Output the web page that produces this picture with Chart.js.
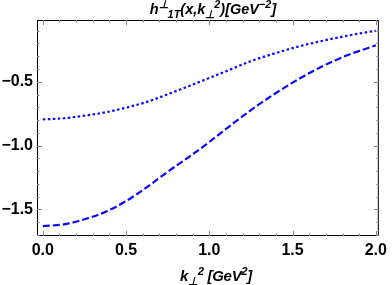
<!DOCTYPE html>
<html>
<head>
<meta charset="utf-8">
<script src="https://cdn.jsdelivr.net/npm/chart.js@4/dist/chart.umd.min.js"></script>
<style>
  html, body { margin: 0; padding: 0; background: #fff; }
  #wrap { position: relative; width: 392px; height: 285px; }
  canvas { position: absolute; left: 0; top: 0; }
  .lbl {
    position: absolute; font-family: "Liberation Sans", Arial, sans-serif;
    font-weight: bold; font-style: italic; color: #000; white-space: nowrap;
    transform: translateX(-50%); line-height: 1;
  }
  .lbl sup, .lbl sub { font-size: 75%; line-height: 0; }
  #title { left: 213px; top: 2px; font-size: 14.5px; }
  #xlabel { left: 216px; top: 268px; font-size: 15px; letter-spacing: -0.3px; }
</style>
</head>
<body>
<div id="wrap">
  <canvas id="chart" width="392" height="285"></canvas>
  <div id="title" class="lbl">h<sup>⊥</sup><sub>1T</sub>(x,k<sub>⊥</sub><sup>2</sup>)[GeV<sup>−2</sup>]</div>
  <div id="xlabel" class="lbl">k<sub>⊥</sub><sup>2</sup> [GeV<sup>2</sup>]</div>
</div>
<script>
// values
var kt2 = [0, 0.125, 0.25, 0.375, 0.5, 0.625, 0.75, 0.875, 1.0,
           1.125, 1.25, 1.375, 1.5, 1.625, 1.75, 1.875, 2.0];
var dottedVals = [-0.795, -0.786, -0.766, -0.74, -0.703, -0.658, -0.598, -0.535, -0.47,
                  -0.405, -0.338, -0.285, -0.236, -0.195, -0.16, -0.128, -0.10];
var dashedVals = [-1.632, -1.618, -1.578, -1.52, -1.435, -1.326, -1.205, -1.092, -0.972,
                  -0.845, -0.722, -0.61, -0.507, -0.415, -0.335, -0.27, -0.215];
var xTicks = [0, 0.5, 1.0, 1.5, 2.0];
var yTicks = [-1.5, -1.0, -0.5];

function pts(vals) {
  return kt2.map(function (k, i) { return { x: k, y: vals[i] }; });
}

// frame + inward ticks like the original
var framePlugin = {
  id: 'frame',
  afterDraw: function (chart) {
    var c = chart.ctx, a = chart.chartArea;
    var xs = chart.scales.x, ys = chart.scales.y;
    c.save();
    c.strokeStyle = '#000';
    c.lineWidth = 1;
    c.strokeRect(a.left + 0.5, a.top + 0.5, a.right - a.left - 1, a.bottom - a.top - 1);
    c.strokeStyle = '#888';
    for (var i = 0; i <= 20; i++) {
      var v = i / 10;
      var px = Math.round(xs.getPixelForValue(v)) + 0.5;
      var len = (i % 5 === 0) ? 5 : 2.5;
      c.beginPath();
      c.moveTo(px, a.bottom); c.lineTo(px, a.bottom - len);
      c.moveTo(px, a.top); c.lineTo(px, a.top + len);
      c.stroke();
    }
    for (var j = 1; j <= 17; j++) {
      var w = -j / 10;
      var py = Math.round(ys.getPixelForValue(w)) + 0.5;
      var l2 = (j % 5 === 0) ? 5 : 2.5;
      c.beginPath();
      c.moveTo(a.left, py); c.lineTo(a.left + l2, py);
      c.moveTo(a.right, py); c.lineTo(a.right - l2, py);
      c.stroke();
    }
    c.restore();
  }
};

var tickFont = { family: '"Liberation Sans", Arial, sans-serif', size: 16, weight: 'bold' };

new Chart(document.getElementById('chart').getContext('2d'), {
  type: 'line',
  data: {
    datasets: [{
      data: pts(dottedVals),
      borderColor: '#0a0aff',
      borderWidth: 2.2,
      borderDash: [2.5, 2.5],
      pointRadius: 0,
      cubicInterpolationMode: 'monotone',
      fill: false
    }, {
      data: pts(dashedVals),
      borderColor: '#0a0aff',
      borderWidth: 2.2,
      borderDash: [7, 3],
      pointRadius: 0,
      cubicInterpolationMode: 'monotone',
      fill: false
    }]
  },
  options: {
    responsive: false,
    animation: false,
    layout: { padding: { top: 20, right: 6, bottom: 0, left: 0 } },
    plugins: { legend: { display: false }, tooltip: { enabled: false } },
    scales: {
      x: {
        type: 'linear',
        min: -0.035,
        max: 2.018,
        grid: { display: false, drawTicks: false },
        border: { display: false },
        afterBuildTicks: function (s) { s.ticks = xTicks.map(function (v) { return { value: v }; }); },
        afterFit: function (s) { s.height = 49; },
        ticks: {
          color: '#000', font: tickFont, padding: 5, maxRotation: 0,
          callback: function (v) { return v.toFixed(1); }
        }
      },
      y: {
        min: -1.709,
        max: -0.016,
        grid: { display: false, drawTicks: false },
        border: { display: false },
        afterBuildTicks: function (s) { s.ticks = yTicks.map(function (v) { return { value: v }; }); },
        afterFit: function (s) { s.width = 37; },
        ticks: {
          color: '#000', font: tickFont, padding: 4,
          callback: function (v) { return v.toFixed(1).replace('-', '\u2212'); }
        }
      }
    }
  },
  plugins: [framePlugin]
});
</script>
</body>
</html>
